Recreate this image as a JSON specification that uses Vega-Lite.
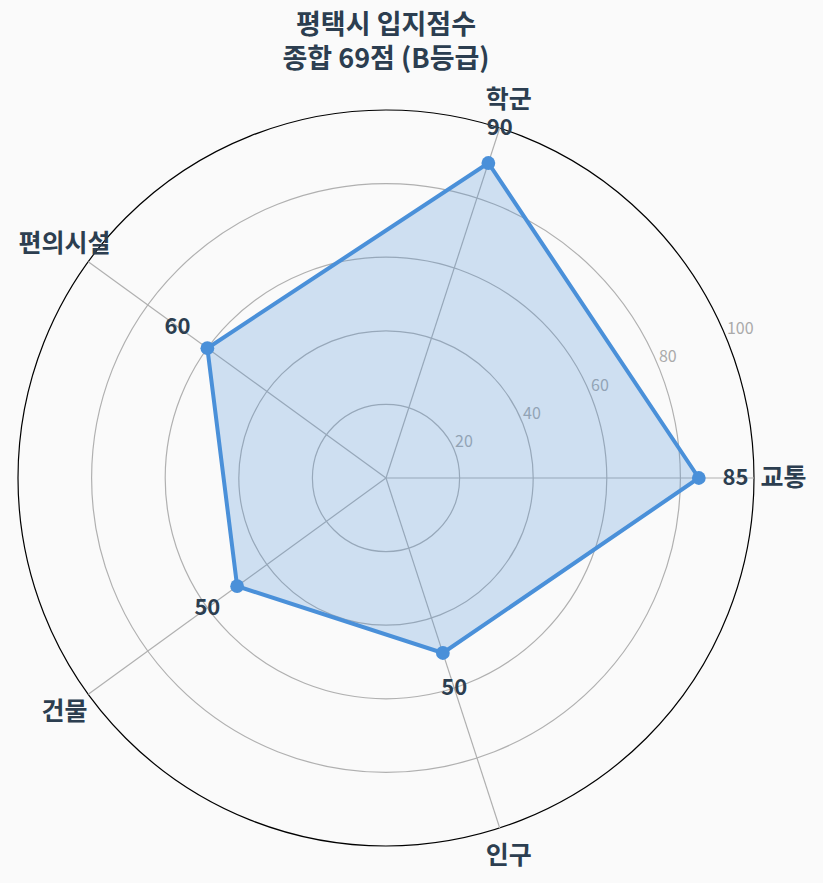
{
  "$schema": "https://vega.github.io/schema/vega-lite/v6.json",
  "autosize": "none",
  "width": 772,
  "height": 772,
  "padding": {"left": 0, "top": 92, "right": 51, "bottom": 19},
  "background": "#fafafa",
  "config": {"view": {"stroke": null}, "font": "Noto Sans CJK KR"},
  "title": {
    "text": ["평택시 입지점수", "종합 69점 (B등급)"],
    "fontSize": 27,
    "fontWeight": "bold",
    "color": "#2c3e50",
    "lineHeight": 34,
    "offset": 14,
    "frame": "group",
    "anchor": "middle"
  },
  "datasets": {
    "scores": [
      {"axis": "교통", "i": 0, "score": 85},
      {"axis": "학군", "i": 1, "score": 90},
      {"axis": "편의시설", "i": 2, "score": 60},
      {"axis": "건물", "i": 3, "score": 50},
      {"axis": "인구", "i": 4, "score": 50}
    ],
    "rings": [{"r": 20}, {"r": 40}, {"r": 60}, {"r": 80}, {"r": 100}]
  },
  "layer": [
    {
      "data": {"name": "rings"},
      "mark": {"type": "arc", "theta": 0, "theta2": 6.2832, "fill": null, "strokeWidth": 1.2},
      "encoding": {
        "radius": {"field": "r", "type": "quantitative", "stack": null, "scale": {"type": "linear", "domain": [0, 100], "range": [0, 368], "zero": true}},
        "stroke": {"condition": {"test": "datum.r == 100", "value": "#000000"}, "value": "#b0b0b0"}
      }
    },
    {
      "data": {"name": "scores"},
      "transform": [
        {"calculate": "100 * cos(datum.i * 2 * PI / 5)", "as": "ex"},
        {"calculate": "100 * sin(datum.i * 2 * PI / 5)", "as": "ey"}
      ],
      "mark": {"type": "rule", "color": "#b0b0b0", "strokeWidth": 1.2},
      "encoding": {
        "x": {"field": "ex", "type": "quantitative", "scale": {"domain": [-104.89, 104.89], "nice": false, "zero": false}, "axis": null},
        "y": {"field": "ey", "type": "quantitative", "scale": {"domain": [-104.89, 104.89], "nice": false, "zero": false}, "axis": null},
        "x2": {"datum": 0},
        "y2": {"datum": 0}
      }
    },
    {
      "data": {"name": "rings"},
      "transform": [
        {"calculate": "datum.r * cos(PI / 8)", "as": "lx"},
        {"calculate": "datum.r * sin(PI / 8)", "as": "ly"}
      ],
      "mark": {"type": "text", "align": "left", "baseline": "bottom", "dx": 1, "dy": 0, "fontSize": 16, "color": "#aaaaaa"},
      "encoding": {
        "x": {"field": "lx", "type": "quantitative"},
        "y": {"field": "ly", "type": "quantitative"},
        "text": {"field": "r", "type": "quantitative"}
      }
    },
    {
      "data": {"name": "scores"},
      "transform": [
        {"calculate": "datum.score * cos(datum.i * 2 * PI / 5)", "as": "px"},
        {"calculate": "datum.score * sin(datum.i * 2 * PI / 5)", "as": "py"}
      ],
      "mark": {"type": "line", "interpolate": "linear-closed", "fill": "#4a90d9", "fillOpacity": 0.25, "stroke": "#4a90d9", "strokeWidth": 4},
      "encoding": {
        "x": {"field": "px", "type": "quantitative"},
        "y": {"field": "py", "type": "quantitative"},
        "order": {"field": "i", "type": "quantitative"}
      }
    },
    {
      "data": {"name": "scores"},
      "transform": [
        {"calculate": "datum.score * cos(datum.i * 2 * PI / 5)", "as": "px"},
        {"calculate": "datum.score * sin(datum.i * 2 * PI / 5)", "as": "py"}
      ],
      "mark": {"type": "point", "filled": true, "size": 190, "color": "#4a90d9", "opacity": 1},
      "encoding": {
        "x": {"field": "px", "type": "quantitative"},
        "y": {"field": "py", "type": "quantitative"}
      }
    },
    {
      "data": {"name": "scores"},
      "transform": [
        {"calculate": "(datum.score + 10) * cos(datum.i * 2 * PI / 5)", "as": "vx"},
        {"calculate": "(datum.score + 10) * sin(datum.i * 2 * PI / 5)", "as": "vy"}
      ],
      "mark": {"type": "text", "align": "center", "baseline": "middle", "fontSize": 22, "fontWeight": "bold", "color": "#2c3e50"},
      "encoding": {
        "x": {"field": "vx", "type": "quantitative"},
        "y": {"field": "vy", "type": "quantitative"},
        "text": {"field": "score", "type": "quantitative"}
      }
    },
    {
      "data": {"name": "scores"},
      "transform": [
        {"calculate": "108 * cos(datum.i * 2 * PI / 5)", "as": "cx"},
        {"calculate": "108 * sin(datum.i * 2 * PI / 5)", "as": "cy"}
      ],
      "mark": {"type": "text", "align": "center", "baseline": "middle", "fontSize": 25, "fontWeight": "bold", "color": "#2c3e50"},
      "encoding": {
        "x": {"field": "cx", "type": "quantitative"},
        "y": {"field": "cy", "type": "quantitative"},
        "text": {"field": "axis", "type": "nominal"}
      }
    }
  ]
}
